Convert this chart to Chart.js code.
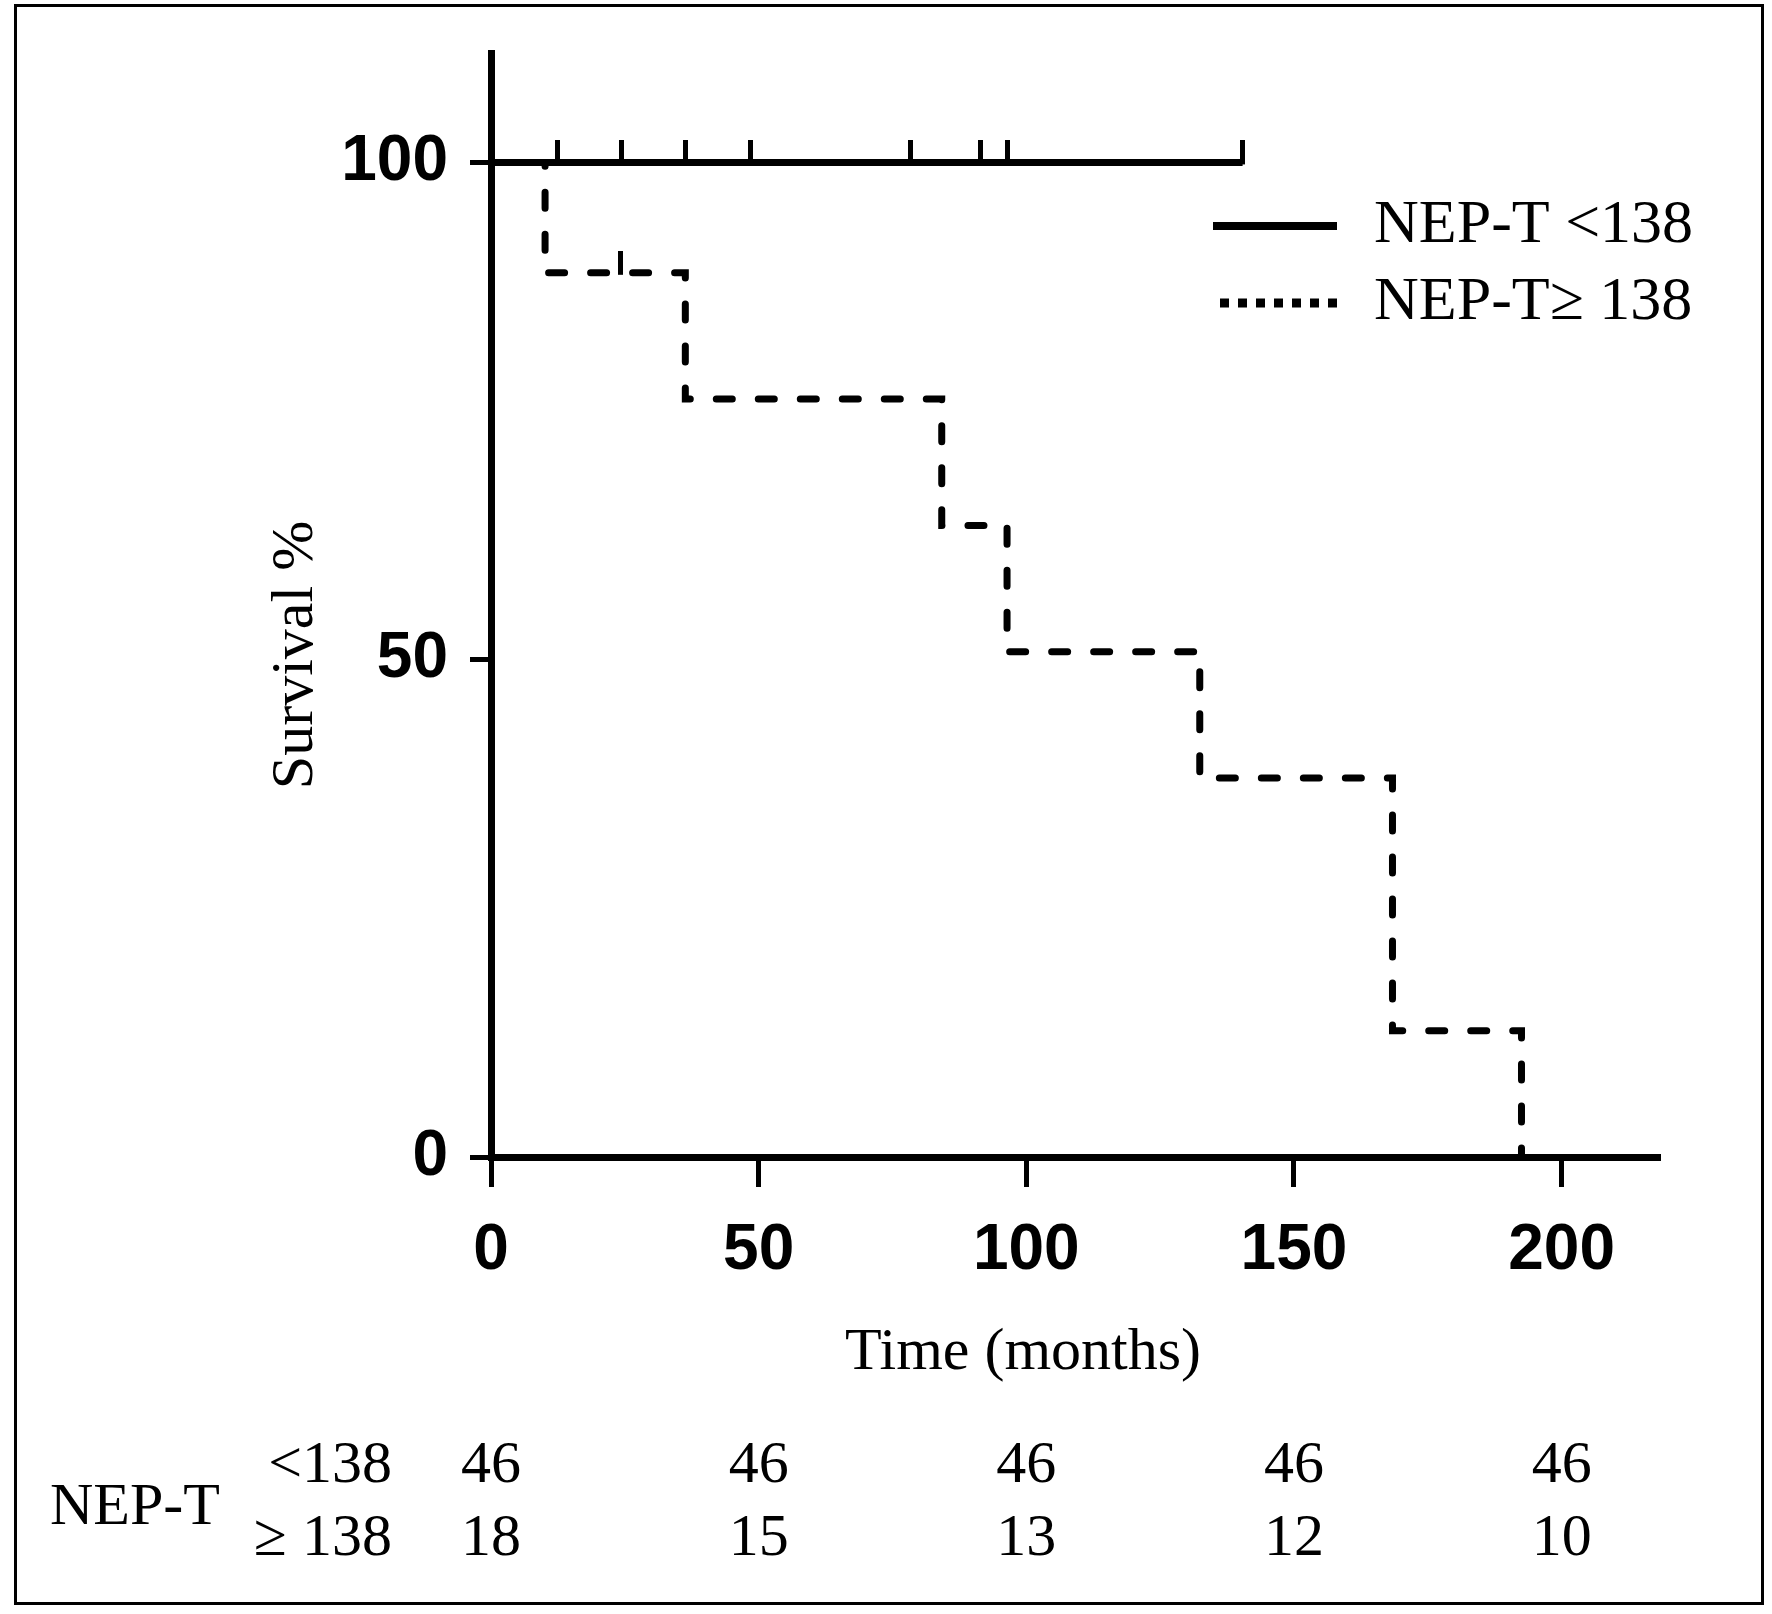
<!DOCTYPE html>
<html>
<head>
<meta charset="utf-8">
<script src="https://cdn.jsdelivr.net/npm/chart.js@4.4.1/dist/chart.umd.min.js"></script>
<style>
  html, body { margin: 0; padding: 0; background: #fff; }
  #wrap { position: relative; width: 1772px; height: 1614px; }
</style>
</head>
<body>
<div id="wrap"><canvas id="km" width="1772" height="1614"></canvas></div>
<script>
// Kaplan-Meier curves (months, survival %)
const lowTimes = [0, 140.4];
const lowSurv = [100, 100];
const lowCensorTimes = [12.5, 24.3, 36.4, 48.4, 78.4, 91.5, 96.4, 140.4];
const lowCensorSurv = [100, 100, 100, 100, 100, 100, 100, 100];

const highTimes = [0, 10.1, 36.3, 84.2, 96.4, 132.4, 168.4, 192.5];
const highSurv = [100, 88.9, 76.2, 63.5, 50.8, 38.1, 12.7, 0];
const highCensorTimes = [24.1];
const highCensorSurv = [88.9];

const xTicks = [0, 50, 100, 150, 200];
const yTicks = [0, 50, 100];

// numbers at risk
const riskTimes = [0, 50, 100, 150, 200];
const riskLow = [46, 46, 46, 46, 46];
const riskHigh = [18, 15, 13, 12, 10];

const groupLabels = ['NEP-T <138', 'NEP-T\u2265 138'];
const riskRowLabels = ['<138', '\u2265 138'];

const serif = '"Liberation Serif", "Times New Roman", serif';
const tickFont = { family: '"Liberation Sans Narrow", "Liberation Sans", Arial, sans-serif', size: 64, weight: 'bold' };

// little upward censor tick, drawn as a point image
function makeTick(h, w) {
  const c = document.createElement('canvas');
  c.width = w; c.height = h * 2;
  const g = c.getContext('2d');
  g.fillStyle = '#000';
  g.fillRect(0, 0, w, h + 2);
  return c;
}
const censorTick = makeTick(22, 5);

const pts = (xs, ys) => xs.map((t, i) => ({ x: t, y: ys[i] }));

// axis titles, legend, frame and the at-risk table
const extras = {
  id: 'extras',
  beforeDraw(chart) {
    const ctx = chart.ctx;
    ctx.save();
    ctx.fillStyle = '#fff';
    ctx.fillRect(0, 0, chart.width, chart.height);
    ctx.restore();
  },
  afterDraw(chart) {
    const ctx = chart.ctx, xs = chart.scales.x;
    ctx.save();
    ctx.strokeStyle = '#000';
    ctx.lineWidth = 3;
    ctx.strokeRect(15.5, 5.5, 1747, 1598);

    ctx.fillStyle = '#000';
    ctx.font = '60px ' + serif;
    ctx.textBaseline = 'middle';
    ctx.textAlign = 'center';
    ctx.fillText('Time (months)', 1023, 1353);
    ctx.save();
    ctx.translate(296, 655);
    ctx.rotate(-Math.PI / 2);
    ctx.fillText('Survival %', 0, 0);
    ctx.restore();

    // legend
    ctx.lineWidth = 8;
    ctx.beginPath(); ctx.moveTo(1213, 226); ctx.lineTo(1337, 226); ctx.stroke();
    ctx.lineWidth = 9;
    ctx.setLineDash([9, 9]);
    ctx.beginPath(); ctx.moveTo(1220, 303); ctx.lineTo(1340, 303); ctx.stroke();
    ctx.setLineDash([]);
    ctx.textAlign = 'left';
    ctx.font = '62px ' + serif;
    ctx.fillText(groupLabels[0], 1374, 226);
    ctx.fillText(groupLabels[1], 1374, 303);

    // numbers at risk
    ctx.font = '60px ' + serif;
    ctx.fillText('NEP-T', 50, 1508);
    ctx.textAlign = 'right';
    ctx.fillText(riskRowLabels[0], 392, 1466);
    ctx.fillText(riskRowLabels[1], 392, 1539);
    ctx.textAlign = 'center';
    riskTimes.forEach((t, i) => {
      const px = xs.getPixelForValue(t);
      ctx.fillText(String(riskLow[i]), px, 1466);
      ctx.fillText(String(riskHigh[i]), px, 1539);
    });
    ctx.restore();
  }
};

new Chart(document.getElementById('km'), {
  type: 'scatter',
  data: {
    datasets: [
      {
        label: 'censored low',
        data: pts(lowCensorTimes, lowCensorSurv),
        pointStyle: censorTick, pointRadius: 11, showLine: false
      },
      {
        label: 'censored high',
        data: pts(highCensorTimes, highCensorSurv),
        pointStyle: censorTick, pointRadius: 11, showLine: false
      },
      {
        label: groupLabels[0],
        data: pts(lowTimes, lowSurv),
        showLine: true, stepped: 'before',
        borderColor: '#000', borderWidth: 7, pointRadius: 0
      },
      {
        label: groupLabels[1],
        data: pts(highTimes, highSurv),
        showLine: true, stepped: 'before',
        borderColor: '#000', borderWidth: 7, pointRadius: 0,
        borderDash: [16, 26], borderCapStyle: 'round'
      }
    ]
  },
  options: {
    responsive: false,
    animation: false,
    devicePixelRatio: 1,
    layout: { padding: { top: 53, right: 114, left: 0, bottom: 0 } },
    plugins: { legend: { display: false }, tooltip: { enabled: false } },
    scales: {
      x: {
        type: 'linear', min: 0, max: 218,
        afterBuildTicks: s => { s.ticks = xTicks.map(v => ({ value: v })); },
        afterFit: s => { s.height = 1614 - 1157; },
        ticks: { font: tickFont, color: '#000', padding: 26 },
        grid: { drawOnChartArea: false, tickLength: 30, tickWidth: 5, tickColor: '#000', color: '#000', lineWidth: 5 },
        border: { display: true, color: '#000', width: 7 }
      },
      y: {
        type: 'linear', min: 0, max: 111,
        afterBuildTicks: s => { s.ticks = yTicks.map(v => ({ value: v })); },
        // keep the label half-heights from pushing the plot area down
        afterFit: s => { s.width = 491; s.paddingTop = 0; s.paddingBottom = 0; },
        ticks: { font: tickFont, color: '#000', padding: 22 },
        grid: { drawOnChartArea: false, tickLength: 21, tickWidth: 5, tickColor: '#000', color: '#000', lineWidth: 5 },
        border: { display: true, color: '#000', width: 7 }
      }
    }
  },
  plugins: [extras]
});
</script>
</body>
</html>
